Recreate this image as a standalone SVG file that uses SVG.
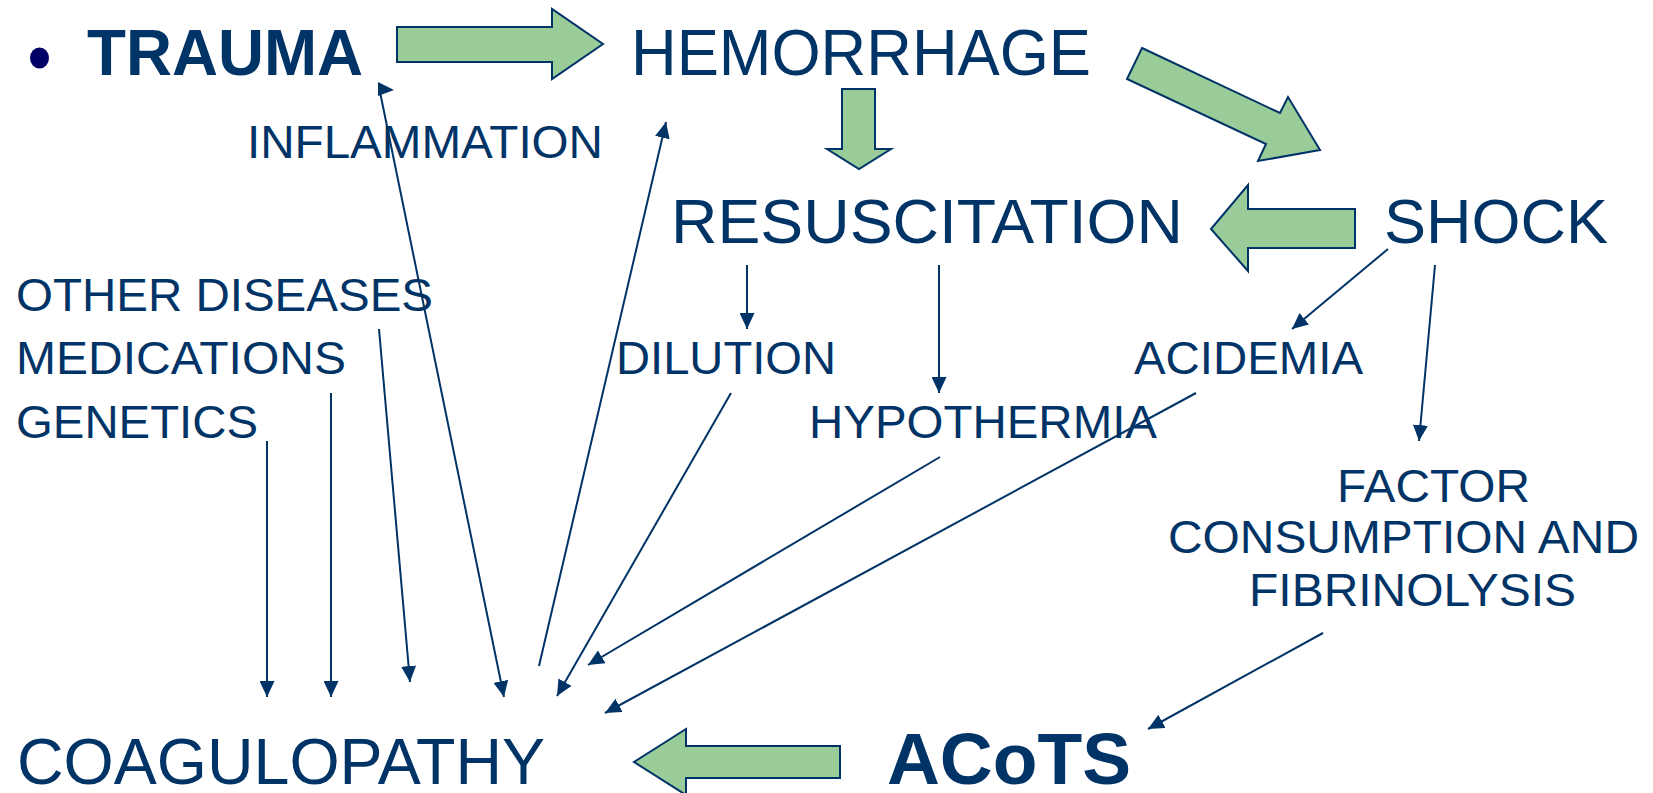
<svg xmlns="http://www.w3.org/2000/svg" width="1653" height="793" viewBox="0 0 1653 793">
  <defs>
    <style>
      .t { font-family: "Liberation Sans", Arial, sans-serif; fill: #003366; }
      .b { font-weight: bold; }
      .blk { fill: #99CC99; stroke: #003366; stroke-width: 2; stroke-linejoin: miter; }
      .ln { stroke: #003366; stroke-width: 2; fill: none; }
    </style>
    <marker id="ah" markerWidth="16" markerHeight="15" refX="16" refY="7.5" orient="auto" markerUnits="userSpaceOnUse">
      <path d="M0,0 L16,7.5 L0,15 z" fill="#003366"/>
    </marker>
  </defs>
  <rect width="1653" height="793" fill="#ffffff"/>

  <g id="bullet"><ellipse cx="39.5" cy="58" rx="9.5" ry="10.5" fill="#000066"/></g>

  <g id="trauma"><text class="t b" x="87" y="75" font-size="65" textLength="276" lengthAdjust="spacingAndGlyphs">TRAUMA</text></g>
  <g id="hemorrhage"><text class="t" x="631" y="75" font-size="65" textLength="460" lengthAdjust="spacingAndGlyphs">HEMORRHAGE</text></g>
  <g id="inflammation"><text class="t" x="247" y="158" font-size="47" textLength="356" lengthAdjust="spacingAndGlyphs">INFLAMMATION</text></g>
  <g id="resuscitation"><text class="t" x="671" y="243" font-size="63" textLength="512" lengthAdjust="spacingAndGlyphs">RESUSCITATION</text></g>
  <g id="shock"><text class="t" x="1384" y="243" font-size="63" textLength="224" lengthAdjust="spacingAndGlyphs">SHOCK</text></g>
  <g id="other-diseases"><text class="t" x="16" y="311" font-size="47" textLength="417" lengthAdjust="spacingAndGlyphs">OTHER DISEASES</text></g>
  <g id="medications"><text class="t" x="16" y="374" font-size="47" textLength="330" lengthAdjust="spacingAndGlyphs">MEDICATIONS</text></g>
  <g id="genetics"><text class="t" x="16" y="438" font-size="47" textLength="242" lengthAdjust="spacingAndGlyphs">GENETICS</text></g>
  <g id="dilution"><text class="t" x="616" y="374" font-size="47" textLength="220" lengthAdjust="spacingAndGlyphs">DILUTION</text></g>
  <g id="hypothermia"><text class="t" x="809" y="438" font-size="47" textLength="348" lengthAdjust="spacingAndGlyphs">HYPOTHERMIA</text></g>
  <g id="acidemia"><text class="t" x="1134" y="374" font-size="47" textLength="229" lengthAdjust="spacingAndGlyphs">ACIDEMIA</text></g>
  <g id="factor">
    <text class="t" x="1337" y="502" font-size="47" textLength="193" lengthAdjust="spacingAndGlyphs">FACTOR</text>
    <text class="t" x="1168" y="553" font-size="47" textLength="471" lengthAdjust="spacingAndGlyphs">CONSUMPTION AND</text>
    <text class="t" x="1249" y="606" font-size="47" textLength="327" lengthAdjust="spacingAndGlyphs">FIBRINOLYSIS</text>
  </g>
  <g id="coagulopathy"><text class="t" x="17" y="784" font-size="65" textLength="528" lengthAdjust="spacingAndGlyphs">COAGULOPATHY</text></g>
  <g id="acots"><text class="t b" x="887" y="784" font-size="73" textLength="244" lengthAdjust="spacingAndGlyphs">ACoTS</text></g>

  <g id="block-arrows">
    <polygon class="blk" points="397,27 552,27 552,9 603,44 552,79 552,62 397,62"/>
    <polygon class="blk" points="842,89 875,89 875,149 891,149 859,169 827,149 842,149"/>
    <polygon class="blk" points="1142,48 1280,113 1288,97 1320,150 1258,161 1266,144 1127,79"/>
    <polygon class="blk" points="1355,209 1248,209 1248,185 1211,229 1248,271 1248,248 1355,248"/>
    <polygon class="blk" points="840,746 686,746 686,729 634,762 686,795 686,778 840,778"/>
  </g>

  <g id="connectors">
    <line class="ln" x1="267" y1="441" x2="267" y2="697" marker-end="url(#ah)"/>
    <line class="ln" x1="331" y1="393" x2="331" y2="697" marker-end="url(#ah)"/>
    <line class="ln" x1="379" y1="329" x2="410" y2="682" marker-end="url(#ah)"/>
    <line class="ln" x1="380" y1="92" x2="504" y2="697" marker-end="url(#ah)"/>
    <polygon points="378,82 394,90 378,96" fill="#003366"/>
    <line class="ln" x1="539" y1="666" x2="666" y2="122" marker-end="url(#ah)"/>
    <line class="ln" x1="731" y1="393" x2="557" y2="696" marker-end="url(#ah)"/>
    <line class="ln" x1="747" y1="265" x2="747" y2="329" marker-end="url(#ah)"/>
    <line class="ln" x1="939" y1="265" x2="939" y2="393" marker-end="url(#ah)"/>
    <line class="ln" x1="940" y1="457" x2="588" y2="665" marker-end="url(#ah)"/>
    <line class="ln" x1="1196" y1="393" x2="605" y2="713" marker-end="url(#ah)"/>
    <line class="ln" x1="1388" y1="249" x2="1292" y2="329" marker-end="url(#ah)"/>
    <line class="ln" x1="1435" y1="265" x2="1419" y2="441" marker-end="url(#ah)"/>
    <line class="ln" x1="1323" y1="633" x2="1148" y2="729" marker-end="url(#ah)"/>
  </g>
</svg>
